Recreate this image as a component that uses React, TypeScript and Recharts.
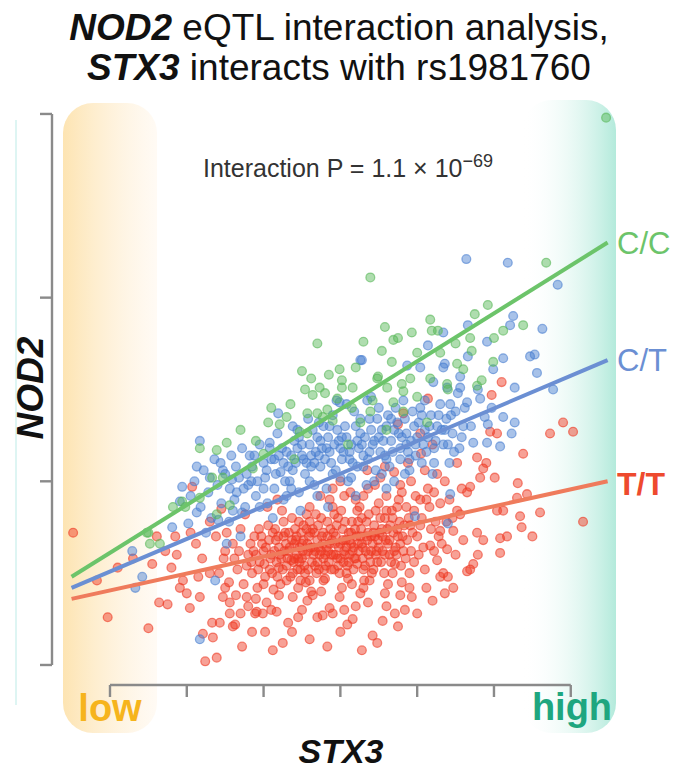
import { ScatterChart, Scatter, XAxis, YAxis, ReferenceLine } from "recharts";

const xTicks = [0, 1, 2, 3, 4, 5, 6];
const yTicks = [0, 1, 2, 3];

// T/T genotype (red), [STX3, NOD2]
const ttPoints: [number, number][] = [
  [-0.48, 0.72], [-0.03, 0.26], [0.5, 0.2], [-0.17, 0.46], [0.1, 0.53], [0.61, 0.7], [0.64, 0.34], [0.75, 0.33],
  [0.87, 0.6], [0.8, 0.53], [0.95, 0.46], [0.91, 0.42], [1.0, 0.39], [1.04, 0.31], [1.21, 0.17], [1.34, 0.15],
  [1.24, 0.02], [1.39, 0.04], [1.07, 0.97], [0.55, 0.55], [0.3, 0.58], [0.72, 0.62], [1.12, 0.66], [1.2, 0.58],
  [1.05, 0.72], [1.3, 0.78], [1.45, 0.85], [1.38, 0.7], [1.5, 0.62], [1.56, 0.28], [1.7, 0.28], [1.43, 0.23],
  [1.6, 0.21], [1.8, 0.32], [1.89, 0.28], [2.12, 0.08], [2.83, 0.1], [3.28, 0.08], [3.48, 0.12], [2.37, 0.18],
  [2.02, 0.18], [1.63, 0.22], [1.33, 0.23], [2.7, 0.26], [3.09, 0.22], [3.16, 0.25], [2.77, 0.27], [1.91, 0.29],
  [1.99, 0.28], [2.32, 0.23], [2.17, 0.29], [2.57, 0.35], [2.86, 0.31], [3.36, 0.34], [3.42, 0.16], [1.17, 0.37],
  [1.47, 0.37], [1.56, 0.34], [1.78, 0.37], [2.04, 0.34], [2.38, 0.37], [2.64, 0.38], [2.99, 0.37], [3.26, 0.39],
  [4.52, 1.1], [4.78, 1.13], [4.9, 1.1], [4.86, 1.07], [5.01, 1.02], [5.38, 1.15], [5.04, 1.26], [4.95, 1.27],
  [5.73, 1.26], [5.9, 1.32], [6.03, 1.27], [5.1, 1.54], [4.97, 1.47], [4.14, 1.45], [3.82, 1.37], [3.75, 1.31],
  [4.04, 1.26], [5.31, 0.99], [5.43, 0.93], [5.3, 0.91], [5.6, 0.83], [5.34, 0.81], [5.36, 0.75], [5.5, 0.7],
  [5.17, 0.7], [5.08, 0.69], [5.04, 0.84], [5.12, 0.84], [6.16, 0.78], [5.08, 0.61], [4.79, 0.6], [4.73, 0.55],
  [4.69, 0.52], [4.65, 0.51], [4.47, 0.42], [4.36, 0.39], [4.3, 0.48], [4.4, 0.48], [3.93, 0.37], [3.78, 0.38],
  [3.84, 0.3], [3.71, 0.28], [3.75, 0.21], [3.58, 0.39], [4.65, 0.94], [4.82, 1.02], [4.69, 0.97], [4.56, 0.82],
  [4.52, 0.84], [4.78, 0.72], [4.86, 0.68], [4.6, 0.68], [4.39, 0.63], [4.26, 0.57], [4.17, 0.65], [4.3, 0.73],
  [4.47, 0.73],
  [1.42, 0.5], [1.48, 0.58], [1.55, 0.45], [1.6, 0.66], [1.66, 0.52], [1.7, 0.74], [1.74, 0.44], [1.8, 0.6],
  [1.85, 0.5], [1.88, 0.7], [1.52, 0.72], [1.64, 0.38], [1.76, 0.82], [1.92, 0.42],
  [1.95, 0.56], [1.98, 0.66], [2.02, 0.48], [2.06, 0.76], [2.1, 0.6], [2.13, 0.41], [2.16, 0.68], [2.2, 0.53],
  [2.24, 0.84], [2.27, 0.62], [2.3, 0.46], [2.33, 0.72], [2.36, 0.57], [2.4, 0.66], [2.05, 0.86], [2.18, 0.9],
  [2.22, 0.44], [2.38, 0.5],
  [2.43, 0.6], [2.46, 0.78], [2.48, 0.52], [2.52, 0.68], [2.55, 0.45], [2.58, 0.62], [2.6, 0.86], [2.63, 0.56],
  [2.66, 0.72], [2.69, 0.5], [2.72, 0.64], [2.75, 0.8], [2.78, 0.58], [2.8, 0.47], [2.83, 0.7], [2.86, 0.9],
  [2.88, 0.6], [2.45, 0.42], [2.62, 0.4], [2.74, 0.92], [2.5, 0.58], [2.7, 0.56], [2.56, 0.74],
  [2.92, 0.52], [2.95, 0.76], [2.98, 0.64], [3.01, 0.84], [3.04, 0.56], [3.07, 0.68], [3.1, 0.47], [3.13, 0.94],
  [3.16, 0.62], [3.19, 0.74], [3.22, 0.55], [3.25, 0.86], [3.28, 0.66], [3.31, 0.46], [3.34, 0.78], [3.37, 0.6],
  [3.4, 0.7], [3.02, 0.42], [3.2, 0.9], [3.36, 0.96], [3.12, 0.6], [2.96, 0.58],
  [3.43, 0.52], [3.46, 0.84], [3.5, 0.64], [3.54, 0.74], [3.57, 0.5], [3.6, 0.92], [3.64, 0.6], [3.68, 0.8],
  [3.71, 0.55], [3.75, 0.7], [3.78, 0.98], [3.82, 0.62], [3.86, 0.86], [3.9, 0.5], [3.94, 0.72], [3.98, 0.92],
  [3.52, 1.02], [3.7, 1.05], [3.88, 1.1], [3.62, 0.44], [3.8, 0.45],
  [4.02, 0.6], [4.06, 0.8], [4.1, 0.52], [4.14, 0.96], [4.18, 0.74], [4.22, 0.62], [4.26, 1.04], [4.3, 0.88],
  [4.34, 0.5], [4.05, 1.15], [4.2, 1.2], [4.38, 0.78], [4.12, 0.42],
  [2.1, 0.3], [2.5, 0.3], [2.9, 0.28], [3.2, 0.32], [1.85, 0.18], [2.6, 0.14], [3.0, 0.18], [3.55, 0.24],
  [4.0, 0.28], [4.2, 0.35], [2.25, 0.12], [1.72, 0.1],
  [2.0, 0.62], [2.08, 0.52], [2.15, 0.74], [2.23, 0.58], [2.29, 0.66], [2.35, 0.48], [2.41, 0.74], [2.47, 0.64],
  [2.53, 0.54], [2.59, 0.7], [2.65, 0.6], [2.71, 0.76], [2.77, 0.66], [2.81, 0.54], [2.87, 0.74], [2.93, 0.66],
  [2.99, 0.5], [3.05, 0.62], [3.11, 0.72], [3.17, 0.52], [3.23, 0.66], [3.29, 0.58], [3.35, 0.68], [3.41, 0.5],
  [3.47, 0.62], [3.53, 0.56], [3.59, 0.68], [3.65, 0.76], [3.72, 0.64], [3.79, 0.54], [2.26, 0.78], [2.56, 0.82],
  [2.92, 0.82], [3.28, 0.8], [3.6, 0.84], [2.44, 0.52], [2.84, 0.62], [3.14, 0.66], [3.44, 0.76], [3.74, 0.86],
  [1.62, 0.58], [1.68, 0.62], [1.78, 0.54], [1.83, 0.66], [1.9, 0.6], [1.94, 0.74], [2.01, 0.55], [2.07, 0.68],
  [2.11, 0.5], [2.14, 0.62], [2.19, 0.7], [2.21, 0.6], [2.25, 0.52], [2.28, 0.72], [2.31, 0.58], [2.34, 0.64],
  [2.37, 0.8], [2.39, 0.56], [2.42, 0.68], [2.45, 0.58], [2.49, 0.72], [2.51, 0.62], [2.54, 0.5], [2.57, 0.66],
  [2.61, 0.72], [2.64, 0.64], [2.67, 0.54], [2.68, 0.82], [2.73, 0.6], [2.76, 0.7], [2.79, 0.52], [2.82, 0.64],
  [2.85, 0.56], [2.89, 0.68], [2.91, 0.6], [2.94, 0.7], [2.97, 0.54], [3.0, 0.66], [3.03, 0.74], [3.06, 0.6],
  [3.09, 0.54], [3.12, 0.68], [3.15, 0.78], [3.18, 0.58], [3.21, 0.7], [3.24, 0.62], [3.27, 0.74], [3.3, 0.52],
  [3.33, 0.62], [3.36, 0.72], [3.39, 0.56], [3.42, 0.66], [3.45, 0.7], [3.48, 0.56], [3.51, 0.72], [3.55, 0.62],
  [3.58, 0.8], [3.62, 0.66], [3.66, 0.56], [3.69, 0.72], [3.73, 0.6], [3.77, 0.78], [3.81, 0.7], [3.85, 0.58],
  [3.89, 0.8], [3.92, 0.62], [3.96, 0.84], [4.0, 0.7], [4.04, 0.9], [4.08, 0.64], [4.16, 0.86], [4.24, 0.78],
  [4.32, 0.66], [4.42, 0.9], [4.5, 0.6], [4.58, 0.96],
  [2.9, 0.96], [3.05, 0.92], [3.3, 0.92], [3.45, 0.98], [3.58, 1.08], [3.76, 0.9], [3.92, 1.0], [4.1, 1.06],
  [4.22, 0.94], [3.35, 1.06], [3.0, 1.0], [4.36, 1.0],
  [1.5, 0.42], [1.9, 0.36], [2.2, 0.38], [2.45, 0.26], [2.75, 0.4], [3.05, 0.3], [3.3, 0.42], [3.6, 0.32],
  [3.9, 0.42], [2.0, 0.44], [2.6, 0.46], [3.15, 0.44], [1.3, 0.5], [1.15, 0.48], [0.85, 0.7],
  [1.84, 0.56], [1.87, 0.62], [1.93, 0.52], [1.97, 0.7], [2.03, 0.64], [2.09, 0.58], [2.12, 0.72], [2.17, 0.56],
  [2.2, 0.64], [2.26, 0.7], [2.3, 0.54], [2.32, 0.62], [2.37, 0.68], [2.4, 0.58], [2.43, 0.7], [2.47, 0.56],
  [2.5, 0.66], [2.52, 0.76], [2.55, 0.6], [2.58, 0.52], [2.61, 0.64], [2.64, 0.74], [2.67, 0.62], [2.7, 0.68],
  [2.72, 0.52], [2.75, 0.62], [2.78, 0.72], [2.8, 0.6], [2.83, 0.78], [2.86, 0.66], [2.88, 0.52], [2.91, 0.72],
  [2.94, 0.6], [2.97, 0.8], [3.0, 0.58], [3.03, 0.68], [3.06, 0.78], [3.08, 0.64], [3.11, 0.56], [3.14, 0.72],
  [3.17, 0.64], [3.2, 0.58], [3.23, 0.78], [3.26, 0.7], [3.29, 0.64], [3.32, 0.54], [3.34, 0.7], [3.37, 0.82],
  [3.4, 0.62], [3.43, 0.72], [3.46, 0.6], [3.49, 0.68], [3.52, 0.8], [3.55, 0.7], [3.58, 0.6], [3.61, 0.74],
  [3.64, 0.68], [3.67, 0.84], [3.7, 0.62], [3.74, 0.74], [3.78, 0.66], [3.83, 0.76], [3.87, 0.68], [3.91, 0.76],
  [2.18, 0.48], [2.48, 0.46], [2.78, 0.46], [3.08, 0.5], [3.38, 0.46], [3.68, 0.5], [2.6, 0.78], [2.9, 0.86],
  [3.22, 0.84], [3.5, 0.88], [3.8, 0.94], [4.12, 0.9], [4.28, 0.7], [4.46, 0.8], [4.04, 0.76], [3.96, 0.56],
];

// C/T genotype (blue)
const ctPoints: [number, number][] = [
  [1.17, 1.22], [1.13, 1.08], [0.94, 0.97], [0.91, 0.89], [0.81, 0.75], [0.29, 0.62], [0.42, 0.48], [0.33, 0.42],
  [1.17, 0.14], [1.37, 0.46], [1.82, 1.14], [1.02, 0.77], [1.13, 0.83], [1.47, 1.06], [1.59, 1.01], [1.65, 0.94],
  [1.41, 0.79], [1.52, 0.66], [1.72, 0.83], [2.19, 1.37], [3.26, 1.66], [2.08, 1.21], [2.99, 1.43], [3.35, 1.44],
  [4.64, 2.21], [5.18, 2.19], [5.83, 2.07], [5.25, 1.9], [5.21, 1.85], [5.63, 1.83], [4.91, 1.76], [4.66, 1.85],
  [4.34, 1.81], [4.14, 1.74], [4.66, 1.68], [5.12, 1.67], [5.47, 1.68], [5.53, 1.69], [5.56, 1.59], [4.99, 1.61],
  [4.36, 1.64], [4.34, 1.62], [4.04, 1.62], [3.28, 1.66], [3.87, 1.63], [4.56, 1.57], [4.21, 1.54], [4.56, 1.51],
  [4.79, 1.5], [4.39, 1.51], [5.27, 1.51], [5.77, 1.5], [4.53, 1.48], [4.82, 1.45], [4.65, 1.43], [4.43, 1.42],
  [4.97, 1.4], [5.12, 1.35], [5.27, 1.32], [4.88, 1.35], [4.92, 1.31], [5.23, 1.26], [4.91, 1.21], [4.73, 1.21],
  [5.08, 1.19], [3.97, 0.81], [4.4, 0.77], [4.43, 0.93],
  [1.05, 0.92], [1.1, 1.0], [1.18, 0.86], [1.22, 1.06], [1.28, 0.94], [1.32, 0.8], [1.36, 1.12], [1.4, 0.98],
  [1.45, 0.88], [1.5, 1.04], [1.55, 0.78], [1.58, 1.14], [1.62, 0.9], [1.68, 1.02], [1.72, 1.18], [1.76, 0.86],
  [1.8, 0.98], [1.85, 1.08], [1.9, 0.92], [1.95, 1.2], [1.25, 0.72], [1.7, 0.7],
  [2.02, 1.02], [2.05, 0.88], [2.1, 1.12], [2.14, 0.96], [2.18, 1.26], [2.22, 1.05], [2.26, 0.9], [2.3, 1.16],
  [2.34, 1.0], [2.38, 1.3], [2.42, 1.1], [2.46, 0.94], [2.5, 1.2], [2.54, 1.04], [2.58, 1.34], [2.62, 1.14],
  [2.66, 0.98], [2.7, 1.24], [2.74, 1.08], [2.78, 1.3], [2.82, 0.96], [2.86, 1.16], [2.9, 1.36], [2.94, 1.06],
  [2.98, 1.22], [2.12, 0.8], [2.48, 0.84], [2.84, 0.86], [2.4, 1.22], [2.64, 1.28],
  [3.02, 1.12], [3.06, 1.3], [3.1, 1.0], [3.14, 1.2], [3.18, 1.38], [3.22, 1.08], [3.26, 1.26], [3.3, 1.14],
  [3.34, 0.98], [3.38, 1.34], [3.42, 1.2], [3.46, 1.06], [3.5, 1.4], [3.54, 1.28], [3.58, 1.14], [3.62, 1.36],
  [3.66, 1.22], [3.7, 1.0], [3.74, 1.32], [3.78, 1.18], [3.82, 1.44], [3.86, 1.26], [3.9, 1.06], [3.94, 1.38],
  [3.98, 1.2], [4.02, 1.32], [4.06, 1.1], [4.1, 1.44], [4.14, 1.24], [4.18, 1.36], [4.22, 1.1], [4.26, 1.3],
  [4.3, 1.42], [4.34, 1.2], [4.38, 1.34], [4.42, 1.1], [4.46, 1.26], [4.5, 1.38], [4.55, 1.18], [4.6, 1.3],
  [3.2, 0.92], [3.6, 0.96], [3.4, 1.46], [3.08, 1.42], [2.95, 1.44],
  [2.2, 1.14], [2.32, 1.08], [2.44, 1.18], [2.56, 1.1], [2.68, 1.16], [2.8, 1.12], [2.92, 1.2], [3.04, 1.16],
  [3.16, 1.1], [3.28, 1.2], [3.4, 1.28], [3.52, 1.16], [3.64, 1.08], [3.76, 1.26], [3.88, 1.16], [4.0, 1.24],
  [4.12, 1.16], [2.6, 1.0], [3.0, 1.02], [3.44, 1.0], [3.84, 1.04], [2.36, 0.96], [2.74, 1.22],
  [1.3, 1.02], [1.44, 1.1], [1.56, 0.96], [1.64, 1.08], [1.78, 1.04], [1.88, 1.14], [1.92, 1.0], [2.0, 1.1],
  [2.08, 1.18], [2.16, 1.04], [2.24, 1.18], [2.28, 1.0], [2.36, 1.14], [2.46, 1.24], [2.52, 1.12], [2.6, 1.2],
  [2.66, 1.1], [2.72, 1.32], [2.76, 1.18], [2.84, 1.24], [2.88, 1.1], [2.96, 1.28], [3.0, 1.18], [3.08, 1.24],
  [3.12, 1.12], [3.2, 1.3], [3.24, 1.18], [3.32, 1.24], [3.36, 1.12], [3.44, 1.22], [3.48, 1.34], [3.56, 1.22],
  [3.6, 1.3], [3.68, 1.16], [3.72, 1.4], [3.8, 1.24], [3.84, 1.34], [3.92, 1.22], [3.96, 1.3], [4.04, 1.4],
  [4.08, 1.2], [4.16, 1.3], [4.24, 1.22], [4.28, 1.36], [4.36, 1.28], [4.44, 1.36], [4.48, 1.16], [4.58, 1.24],
  [4.62, 1.4], [4.7, 1.3], [3.14, 1.02], [3.54, 1.04], [3.9, 1.12], [4.2, 1.04], [2.7, 0.92], [2.3, 0.92],
  [1.95, 0.86], [1.6, 0.84],
  [2.04, 1.06], [2.14, 1.12], [2.26, 1.1], [2.38, 1.06], [2.5, 1.14], [2.62, 1.08], [2.72, 1.14], [2.82, 1.18],
  [2.9, 1.04], [3.02, 1.24], [3.12, 1.16], [3.22, 1.22], [3.3, 1.08], [3.38, 1.16], [3.5, 1.24], [3.6, 1.12],
  [3.7, 1.28], [3.78, 1.12], [3.86, 1.2], [3.98, 1.14], [4.1, 1.28], [4.22, 1.18], [4.32, 1.28], [4.4, 1.2],
  [2.44, 1.28], [2.86, 1.3], [3.26, 1.34], [3.66, 1.34], [4.06, 1.36], [1.74, 0.96], [1.84, 1.0], [2.0, 0.96],
];

// C/C genotype (green)
const ccPoints: [number, number][] = [
  [1.17, 1.18], [1.52, 1.21], [1.39, 1.17], [0.82, 0.86], [0.98, 0.86], [0.5, 0.72], [0.52, 0.66], [0.65, 0.66],
  [1.39, 0.82], [1.33, 1.02], [1.47, 1.02], [1.56, 0.87], [1.86, 1.07], [3.39, 2.11], [2.7, 1.75], [2.99, 1.61],
  [2.54, 1.5], [2.64, 1.47], [2.73, 1.51], [2.8, 1.48], [3.02, 1.55], [3.02, 1.51], [3.16, 1.51], [2.96, 1.45],
  [3.48, 1.56], [2.57, 1.37], [2.7, 1.37], [2.83, 1.39], [2.3, 1.35], [2.06, 1.32], [2.21, 1.31], [2.47, 1.27],
  [2.57, 1.26], [2.77, 1.35], [2.9, 1.33], [3.39, 1.38], [3.26, 1.32], [5.68, 2.19], [4.92, 1.96], [4.75, 1.91],
  [4.17, 1.88], [3.93, 1.81], [4.19, 1.82], [4.27, 1.82], [3.69, 1.77], [3.75, 1.78], [3.54, 1.71], [3.67, 1.65],
  [5.12, 1.82], [5.38, 1.85], [4.69, 1.78], [4.71, 1.71], [4.52, 1.64], [4.6, 1.61], [4.39, 1.53], [4.84, 1.55],
  [4.99, 1.65], [4.17, 1.56], [3.91, 1.56], [3.8, 1.53], [3.82, 1.49], [3.49, 1.57], [3.61, 1.51], [4.78, 1.52],
  [4.4, 1.5], [3.42, 1.44], [3.69, 1.43], [3.82, 1.38], [4.13, 1.32], [6.46, 2.98], [0.48, 0.72], [0.94, 0.89],
  [1.17, 0.91], [2.0, 1.15], [2.4, 1.12], [3.1, 1.2], [3.6, 1.28],
  [2.1, 1.4], [2.35, 1.42], [2.62, 1.56], [2.85, 1.58], [3.2, 1.62], [3.3, 1.76], [3.58, 1.84], [4.0, 1.7],
  [4.3, 1.7], [4.5, 1.75], [4.0, 1.46], [3.15, 1.4], [1.7, 1.28], [1.9, 1.22], [2.5, 1.6], [5.0, 1.78],
];

// fitted lines per genotype
const fitX = [-0.5, 6.48];
const ccFitY = [0.48, 2.3];
const ctFitY = [0.42, 1.66];
const ttFitY = [0.36, 1.0];

const toRows = (pts: [number, number][]) => pts.map(([x, y]) => ({ x, y }));
const fitRows = (ys: number[]) => fitX.map((x, i) => ({ x, y: ys[i] }));

const RED = "#ee3b24";
const BLUE = "#4a7fd0";
const GREEN = "#58b858";
const AXIS = "#8a8a8a";
const FONT = "'Liberation Sans', Arial, Helvetica, sans-serif";

const dot = (color: string) => (p: any) => (
  <circle
    cx={p.cx}
    cy={p.cy}
    r={4.4}
    fill={color}
    fillOpacity={0.48}
    stroke={color}
    strokeOpacity={0.6}
    strokeWidth={1.3}
  />
);
const noDot = () => <g />;
const blank = () => "";

export default function App() {
  const layer = { position: "absolute" as const, left: 0, top: 0 };
  return (
    <div style={{ position: "absolute", left: 0, top: 0, width: 678, height: 770, background: "#fff" }}>
      {/* low / high bands behind the plot */}
      <svg width={678} height={770} style={layer}>
        <defs>
          <linearGradient id="lowBand" x1="0" y1="0" x2="1" y2="0">
            <stop offset="0%" stopColor="#fde4b2" />
            <stop offset="100%" stopColor="#fff6ea" stopOpacity={0.5} />
          </linearGradient>
          <linearGradient id="highBand" x1="0" y1="0" x2="1" y2="0">
            <stop offset="0%" stopColor="#ffffff" stopOpacity={0} />
            <stop offset="100%" stopColor="#b3eadb" />
          </linearGradient>
        </defs>
        <rect x={63} y={103} width={94} height={630} rx={30} fill="url(#lowBand)" />
        <rect x={522} y={100} width={94} height={633} rx={30} fill="url(#highBand)" />
        <line x1={16} y1={120} x2={16} y2={705} stroke="#def5f3" strokeWidth={2} />
      </svg>

      <div style={layer}>
        <ScatterChart width={678} height={770} margin={{ top: 100, right: 62, bottom: 55, left: 12 }}>
          <XAxis
            type="number"
            dataKey="x"
            domain={[-0.755, 6.589]}
            allowDataOverflow
            ticks={xTicks}
            tickFormatter={blank}
            tickSize={12}
            axisLine={false}
            tickLine={{ stroke: AXIS, strokeWidth: 2.4 }}
            height={30}
          />
          <YAxis
            type="number"
            dataKey="y"
            domain={[-0.109, 3.076]}
            allowDataOverflow
            ticks={yTicks}
            tickFormatter={blank}
            tickSize={12}
            axisLine={false}
            tickLine={{ stroke: AXIS, strokeWidth: 2.4 }}
            width={40}
          />
          <ReferenceLine
            segment={[{ x: 0, y: -0.109 }, { x: 6, y: -0.109 }]}
            stroke={AXIS}
            strokeWidth={2.4}
            ifOverflow="visible"
          />
          <ReferenceLine
            segment={[{ x: -0.755, y: 0 }, { x: -0.755, y: 3 }]}
            stroke={AXIS}
            strokeWidth={2.4}
            ifOverflow="visible"
          />
          <Scatter data={toRows(ttPoints)} shape={dot(RED)} isAnimationActive={false} />
          <Scatter data={toRows(ctPoints)} shape={dot(BLUE)} isAnimationActive={false} />
          <Scatter data={toRows(ccPoints)} shape={dot(GREEN)} isAnimationActive={false} />
          <Scatter data={fitRows(ttFitY)} shape={noDot} line={{ stroke: "#ef7b5c", strokeWidth: 4 }} isAnimationActive={false} />
          <Scatter data={fitRows(ctFitY)} shape={noDot} line={{ stroke: "#6b8fd3", strokeWidth: 4 }} isAnimationActive={false} />
          <Scatter data={fitRows(ccFitY)} shape={noDot} line={{ stroke: "#6cc46a", strokeWidth: 4 }} isAnimationActive={false} />
        </ScatterChart>
      </div>

      {/* texts */}
      <svg width={678} height={770} style={{ ...layer, pointerEvents: "none" }} fontFamily={FONT}>
        <text x={339} y={40} textAnchor="middle" fontSize={37} fill="#111">
          <tspan fontWeight="bold" fontStyle="italic">NOD2</tspan> eQTL interaction analysis,
        </text>
        <text x={339} y={80} textAnchor="middle" fontSize={37} fill="#111">
          <tspan fontWeight="bold" fontStyle="italic">STX3</tspan> interacts with rs1981760
        </text>
        <text x={348} y={177} textAnchor="middle" fontSize={25} fill="#333">
          Interaction P = 1.1 × 10<tspan dy={-10} fontSize={18}>−69</tspan>
        </text>
        <text
          transform="translate(43,388) rotate(-90)"
          textAnchor="middle"
          fontSize={37}
          fontWeight="bold"
          fontStyle="italic"
          fill="#111"
        >
          NOD2
        </text>
        <text x={341} y={763} textAnchor="middle" fontSize={34} fontWeight="bold" fontStyle="italic" fill="#111">
          STX3
        </text>
        <text x={617} y={254} fontSize={31} fill="#6cc46a">C/C</text>
        <text x={617} y={371} fontSize={31} fill="#6b8fd3">C/T</text>
        <text x={617} y={495} fontSize={32} fontWeight="bold" fill="#ee4a2e">T/T</text>
        <text x={110} y={721} textAnchor="middle" fontSize={38} fontWeight="bold" fill="#f6b41c">low</text>
        <text x={572} y={720} textAnchor="middle" fontSize={38} fontWeight="bold" fill="#1ea67f">high</text>
      </svg>
    </div>
  );
}
